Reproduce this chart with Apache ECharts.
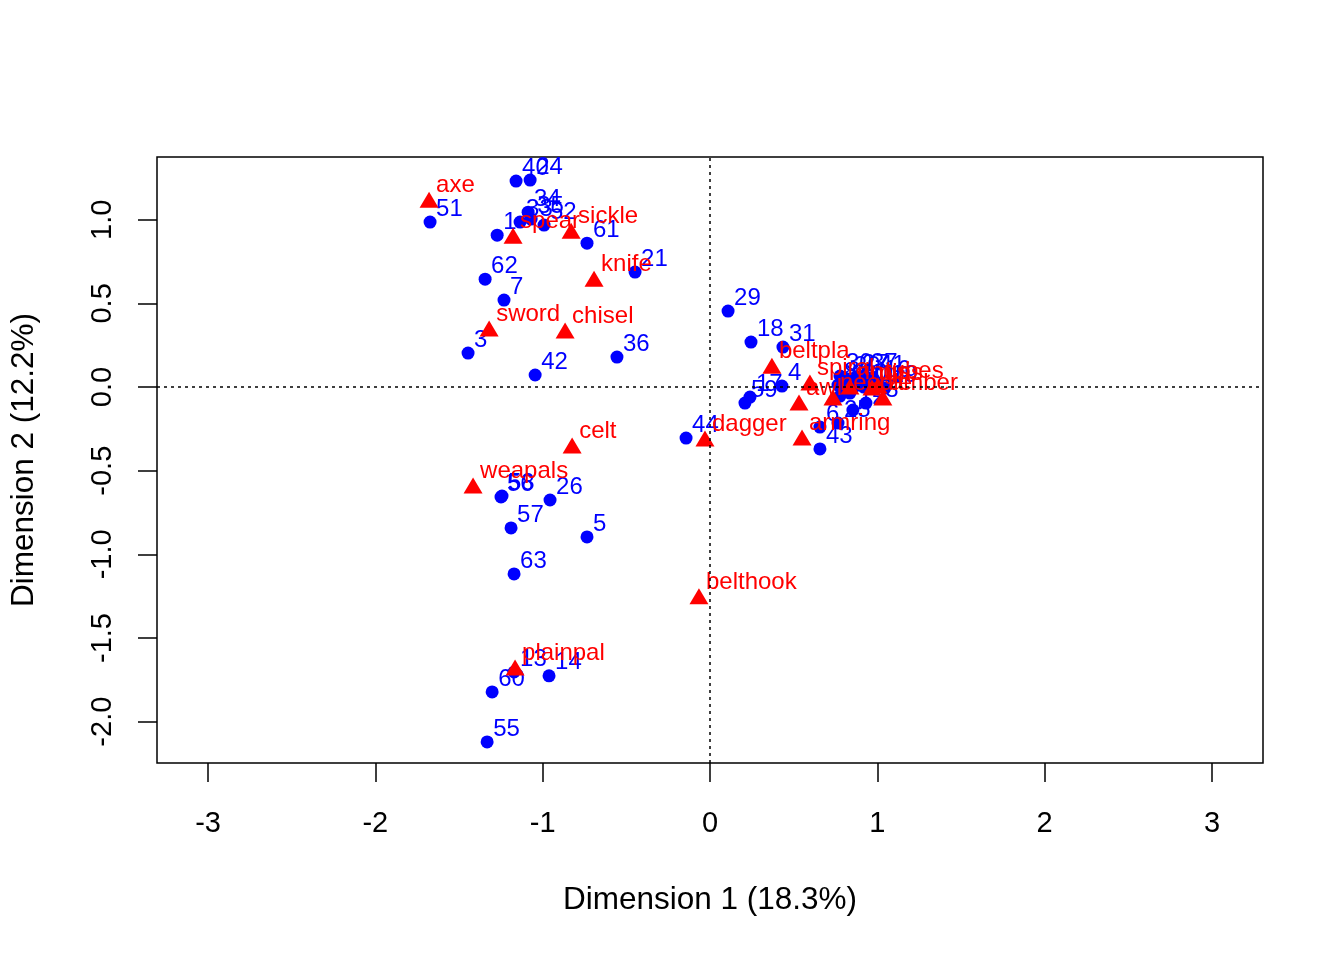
<!DOCTYPE html>
<html>
<head>
<meta charset="utf-8">
<script src="https://cdn.jsdelivr.net/npm/echarts@6/dist/echarts.min.js"></script>
<style>html,body{margin:0;padding:0;background:#fff}#c{width:1344px;height:960px}</style>
</head>
<body>
<div id="c"></div>
<script>
// Row points (blue): names and coordinates
const rowNames = ["40","24","34","33","35","52","51","1","61","62","7","21","3","42","36","29","18","31","4","59","17","44","43","6","25","30","20","27","37","41","8","9","10","11","16","19","15","12","23","2","56","58","26","57","5","63","13","60","14","55"];
const rowX = [-1.159,-1.075,-1.087,-1.135,-1.069,-0.992,-1.673,-1.272,-0.735,-1.344,-1.231,-0.448,-1.446,-1.045,-0.556,0.108,0.245,0.436,0.430,0.209,0.239,-0.143,0.657,0.657,0.765,0.777,0.824,0.872,0.926,0.974,0.765,0.812,0.866,0.920,1.004,1.045,0.777,0.854,0.932,0.836,-1.249,-1.243,-0.956,-1.189,-0.735,-1.171,-1.171,-1.302,-0.962,-1.332];
const rowY = [1.231,1.237,1.045,0.986,1.004,0.968,0.986,0.908,0.860,0.645,0.520,0.687,0.203,0.072,0.179,0.454,0.269,0.239,0.006,-0.096,-0.060,-0.305,-0.370,-0.239,-0.215,0.066,0.048,0.060,0.066,0.054,0.012,0.000,0.006,0.000,0.024,-0.006,-0.054,-0.137,-0.096,-0.036,-0.657,-0.651,-0.675,-0.842,-0.896,-1.117,-1.703,-1.822,-1.726,-2.121];

// Column points (red)
const colNames = ["axe","spear","sickle","knife","sword","chisel","celt","weapals","belthook","plainpal","dagger","armring","beltpla","spiral","awl","needle","rings","pins","tubes","amber"];
const colX = [-1.679,-1.177,-0.830,-0.693,-1.320,-0.866,-0.824,-1.416,-0.066,-1.165,-0.030,0.550,0.370,0.597,0.532,0.735,0.836,0.968,1.004,1.033];
const colY = [1.105,0.890,0.920,0.633,0.335,0.323,-0.364,-0.603,-1.266,-1.691,-0.323,-0.317,0.113,0.012,-0.108,-0.078,-0.012,-0.018,-0.006,-0.078];

const xTicks = [-3,-2,-1,0,1,2,3];
const yTicks = [-2,-1.5,-1,-0.5,0,0.5,1];
const xTitle = "Dimension 1 (18.3%)";
const yTitle = "Dimension 2 (12.2%)";

const FONT = "'Liberation Sans', Arial, Helvetica, sans-serif";
const chart = echarts.init(document.getElementById('c'), null, {renderer:'canvas'});

const rowData = rowNames.map((n,i)=>({name:n, value:[rowX[i], rowY[i]]}));
const colData = colNames.map((n,i)=>({name:n, value:[colX[i], colY[i]]}));

chart.setOption({
  animation:false,
  backgroundColor:'#ffffff',
  grid:{left:157, right:81, top:157, bottom:197, show:true, borderColor:'#000', borderWidth:1.5, backgroundColor:'transparent'},
  xAxis:{
    type:'value', min:-3.305, max:3.305, position:'bottom',
    name:xTitle, nameLocation:'middle', nameGap:121,
    nameTextStyle:{fontFamily:FONT, fontSize:31.5, color:'#000'},
    axisLine:{show:false, onZero:false},
    axisTick:{show:true, customValues:xTicks, length:19, lineStyle:{color:'#000', width:1.5}},
    axisLabel:{customValues:xTicks, fontFamily:FONT, fontSize:29, color:'#000', margin:46},
    splitLine:{show:false}
  },
  yAxis:{
    type:'value', min:-2.247, max:1.375, position:'left',
    name:yTitle, nameLocation:'middle', nameGap:117, nameRotate:90,
    nameTextStyle:{fontFamily:FONT, fontSize:31.5, color:'#000'},
    axisLine:{show:false, onZero:false},
    axisTick:{show:true, customValues:yTicks, length:19, lineStyle:{color:'#000', width:1.5}},
    axisLabel:{customValues:yTicks, rotate:90, fontFamily:FONT, fontSize:29, color:'#000', margin:40,
      formatter:v=>v.toFixed(1)},
    splitLine:{show:false}
  },
  series:[
    {
      type:'scatter', z:2, data:rowData, symbol:'circle', symbolSize:13,
      itemStyle:{color:'#0000ff', opacity:1},
      label:{show:true, formatter:p=>p.name, position:'inside', align:'left', verticalAlign:'bottom', offset:[6,-1],
        color:'#0000ff', fontFamily:FONT, fontSize:24},
      markLine:{silent:true, symbol:['none','none'], label:{show:false},
        lineStyle:{color:'#000', type:[3,4], width:1.5},
        data:[{xAxis:0},{yAxis:0}]}
    },
    {
      type:'scatter', z:3, data:colData, symbol:'triangle', symbolSize:[19,16], symbolOffset:[0,-2.5],
      itemStyle:{color:'#ff0000', opacity:1},
      label:{show:true, formatter:p=>p.name, position:'inside', align:'left', verticalAlign:'bottom', offset:[7,-2],
        color:'#ff0000', fontFamily:FONT, fontSize:24}
    }
  ]
});
</script>
</body>
</html>
